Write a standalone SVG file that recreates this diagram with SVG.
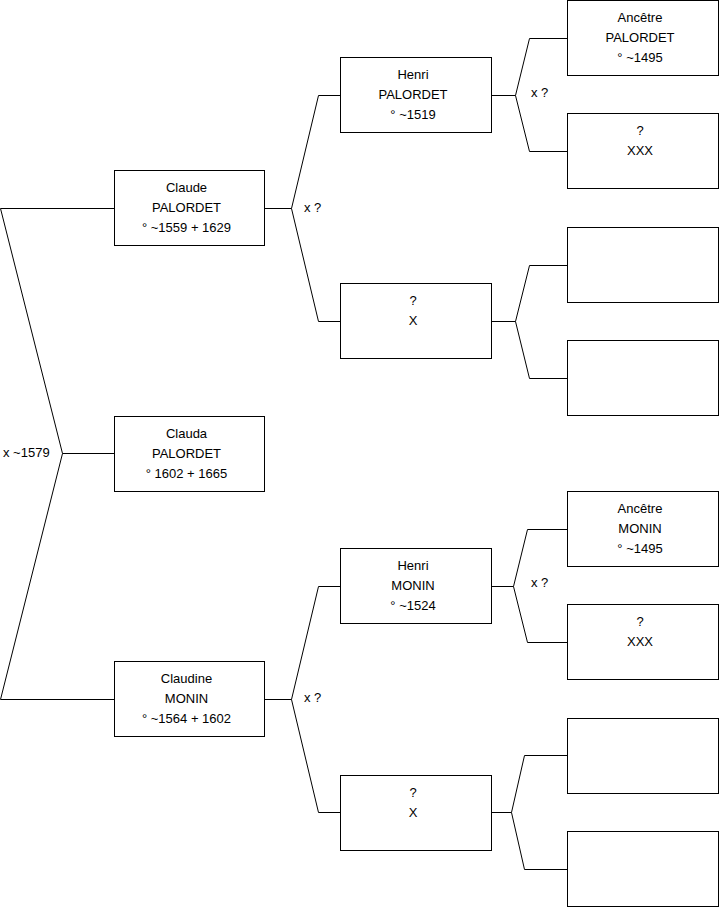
<svg xmlns="http://www.w3.org/2000/svg" width="719" height="908" viewBox="0 0 719 908">
<style>
.box{fill:#fff;stroke:#000;stroke-width:1}
.t{font-family:"Liberation Sans",Arial,sans-serif;font-size:13px;fill:#000;text-anchor:middle}
.l{font-family:"Liberation Sans",Arial,sans-serif;font-size:13px;fill:#000}
.c{fill:none;stroke:#000;stroke-width:1}
</style>
<rect width="719" height="908" fill="#fff"/>
<g id="connectors">
<polyline class="c" points="114,208.5 0.5,208.5 62.5,453.5 0.5,699.5 114,699.5"/>
<line class="c" x1="62.5" y1="453.5" x2="114" y2="453.5"/>
<polyline class="c" points="341,95.5 318.5,95.5 291.5,208.5 318.5,321.5 341,321.5"/>
<line class="c" x1="265" y1="208.5" x2="291.5" y2="208.5"/>
<polyline class="c" points="341,586.5 318.5,586.5 291.5,699.5 318.5,812.5 341,812.5"/>
<line class="c" x1="265" y1="699.5" x2="291.5" y2="699.5"/>
<polyline class="c" points="567.5,38.5 529.5,38.5 515.5,95.5 529.5,151.5 567.5,151.5"/>
<line class="c" x1="491" y1="95.5" x2="515.5" y2="95.5"/>
<polyline class="c" points="567.5,265.5 529.5,265.5 515.5,321.5 529.5,378.5 567.5,378.5"/>
<line class="c" x1="491" y1="321.5" x2="515.5" y2="321.5"/>
<polyline class="c" points="567.5,529.5 527.5,529.5 513.5,586.5 527.5,642.5 567.5,642.5"/>
<line class="c" x1="491" y1="586.5" x2="513.5" y2="586.5"/>
<polyline class="c" points="567.5,755.5 524.5,755.5 511.5,812.5 524.5,869.5 567.5,869.5"/>
<line class="c" x1="491" y1="812.5" x2="511.5" y2="812.5"/>
<text class="l" x="3" y="457">x ~1579</text>
<text class="l" x="304" y="212">x ?</text>
<text class="l" x="304" y="702">x ?</text>
<text class="l" x="531" y="97">x ?</text>
<text class="l" x="531" y="587">x ?</text>
</g>
<g id="claude">
<rect class="box" x="114.5" y="170.5" width="150" height="75"/>
<text class="t" x="186.5" y="191.5">Claude</text>
<text class="t" x="186.5" y="211.5">PALORDET</text>
<text class="t" x="186.5" y="231.5">° ~1559 + 1629</text>
</g>
<g id="clauda">
<rect class="box" x="114.5" y="416.5" width="150" height="75"/>
<text class="t" x="186.5" y="437.5">Clauda</text>
<text class="t" x="186.5" y="457.5">PALORDET</text>
<text class="t" x="186.5" y="477.5">° 1602 + 1665</text>
</g>
<g id="claudine">
<rect class="box" x="114.5" y="661.5" width="150" height="75"/>
<text class="t" x="186.5" y="682.5">Claudine</text>
<text class="t" x="186.5" y="702.5">MONIN</text>
<text class="t" x="186.5" y="722.5">° ~1564 + 1602</text>
</g>
<g id="henri-palordet">
<rect class="box" x="340.5" y="57.5" width="151" height="75"/>
<text class="t" x="413" y="78.5">Henri</text>
<text class="t" x="413" y="98.5">PALORDET</text>
<text class="t" x="413" y="118.5">° ~1519</text>
</g>
<g id="x-top">
<rect class="box" x="340.5" y="283.5" width="151" height="75"/>
<text class="t" x="413" y="304.5">?</text>
<text class="t" x="413" y="324.5">X</text>
</g>
<g id="henri-monin">
<rect class="box" x="340.5" y="548.5" width="151" height="75"/>
<text class="t" x="413" y="569.5">Henri</text>
<text class="t" x="413" y="589.5">MONIN</text>
<text class="t" x="413" y="609.5">° ~1524</text>
</g>
<g id="x-bottom">
<rect class="box" x="340.5" y="775.5" width="151" height="75"/>
<text class="t" x="413" y="796.5">?</text>
<text class="t" x="413" y="816.5">X</text>
</g>
<g id="ancetre-palordet">
<rect class="box" x="567.5" y="0.5" width="151" height="75"/>
<text class="t" x="640" y="21.5">Ancêtre</text>
<text class="t" x="640" y="41.5">PALORDET</text>
<text class="t" x="640" y="61.5">° ~1495</text>
</g>
<g id="xxx-top">
<rect class="box" x="567.5" y="113.5" width="151" height="75"/>
<text class="t" x="640" y="134.5">?</text>
<text class="t" x="640" y="154.5">XXX</text>
</g>
<g id="empty-1"><rect class="box" x="567.5" y="227.5" width="151" height="75"/></g>
<g id="empty-2"><rect class="box" x="567.5" y="340.5" width="151" height="75"/></g>
<g id="ancetre-monin">
<rect class="box" x="567.5" y="491.5" width="151" height="75"/>
<text class="t" x="640" y="512.5">Ancêtre</text>
<text class="t" x="640" y="532.5">MONIN</text>
<text class="t" x="640" y="552.5">° ~1495</text>
</g>
<g id="xxx-bottom">
<rect class="box" x="567.5" y="604.5" width="151" height="75"/>
<text class="t" x="640" y="625.5">?</text>
<text class="t" x="640" y="645.5">XXX</text>
</g>
<g id="empty-3"><rect class="box" x="567.5" y="718.5" width="151" height="75"/></g>
<g id="empty-4"><rect class="box" x="567.5" y="831.5" width="151" height="75"/></g>
</svg>
